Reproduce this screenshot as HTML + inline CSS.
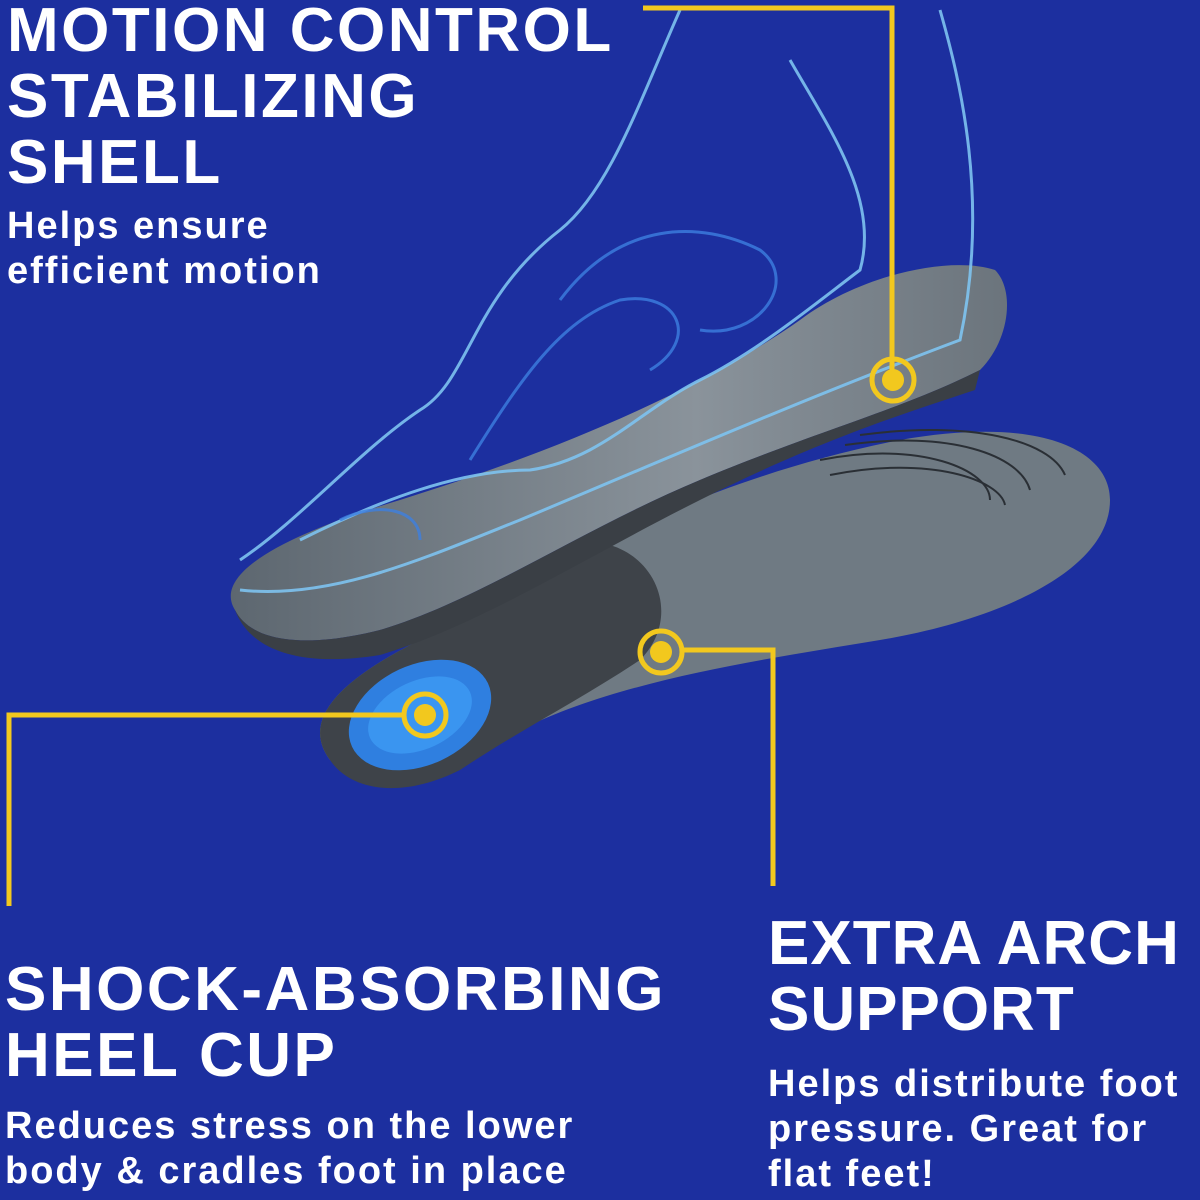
<!DOCTYPE html>
<html><head><meta charset="utf-8"><style>
html,body{margin:0;padding:0}
body{width:1200px;height:1200px;background:#1c2f9f;position:relative;overflow:hidden;font-family:"Liberation Sans",sans-serif;color:#fff}
.t{position:absolute;font-weight:bold;white-space:nowrap}
.h{font-size:62px;line-height:66px;letter-spacing:2.5px}
.s{font-size:38px;line-height:45px;letter-spacing:2px}
svg{position:absolute;left:0;top:0}
</style></head><body>
<svg width="1200" height="1200" viewBox="0 0 1200 1200">
<defs>
<linearGradient id="g1" x1="0" y1="0" x2="1" y2="0"><stop offset="0" stop-color="#5d6770"/><stop offset="0.6" stop-color="#8a939b"/><stop offset="1" stop-color="#6b747c"/></linearGradient>
</defs>
<path d="M330,760 C300,720 340,680 420,640 C560,560 700,480 900,440 C1040,415 1110,450 1110,500 C1110,570 1000,620 880,640 C760,660 620,680 520,730 C460,760 380,800 330,760 Z" fill="#6f7a83"/>
<path d="M330,760 C300,720 340,680 420,640 C500,600 560,570 610,545 C660,560 680,620 640,660 C580,700 520,730 460,770 C400,800 350,790 330,760Z" fill="#3e4349"/>
<ellipse cx="420" cy="715" rx="75" ry="50" transform="rotate(-25 420 715)" fill="#2f7fe0"/>
<ellipse cx="420" cy="715" rx="55" ry="34" transform="rotate(-25 420 715)" fill="#3a95f0"/>
<g stroke="#2a2f35" stroke-width="2" fill="none">
<path d="M820,460 C920,440 990,470 990,500"/><path d="M830,475 C930,455 1000,480 1005,505"/><path d="M845,445 C950,430 1020,455 1030,490"/><path d="M860,435 C970,420 1050,440 1065,475"/>
</g>
<path d="M235,610 C210,570 300,530 400,500 C560,450 700,390 800,320 C860,275 950,255 995,270 C1015,290 1010,340 980,370 C900,410 820,430 700,480 C580,530 480,600 380,630 C300,650 250,640 235,610 Z" fill="url(#g1)"/>
<path d="M235,610 C250,640 300,650 380,630 C480,600 580,530 700,480 C820,430 900,410 980,370 L975,390 C900,415 820,440 700,500 C580,560 480,625 380,655 C300,668 250,650 235,610Z" fill="#3a3f45"/>
<g stroke="#7ec3f0" stroke-width="3" fill="none" opacity="0.9">
<path d="M240,560 C300,520 360,450 420,410 C470,380 470,300 560,230 C610,190 640,100 680,10"/>
<path d="M240,590 C330,600 420,560 520,520 C640,470 800,400 960,340 C990,200 960,80 940,10"/>
<path d="M300,540 C380,500 460,470 530,470 C600,460 640,410 700,380 C760,350 820,300 860,270 C880,200 830,130 790,60"/>
</g>
<g stroke="#3d7fe0" stroke-width="3" fill="none" opacity="0.8">
<path d="M560,300 C620,220 700,220 760,250 C800,280 760,340 700,330"/>
<path d="M470,460 C520,380 560,320 620,300 C680,290 700,340 650,370"/>
<path d="M340,520 C380,500 420,510 420,540"/>
</g>
<g stroke="#f2c81e" stroke-width="5" fill="none">
<polyline points="643,8 892,8 892,370"/>
<polyline points="683,650 773,650 773,886"/>
<polyline points="405,715 9,715 9,906"/>
<circle cx="893" cy="380" r="21"/><circle cx="661" cy="652" r="21"/><circle cx="425" cy="715" r="21"/>
</g>
<g fill="#f2c81e"><circle cx="893" cy="380" r="11"/><circle cx="661" cy="652" r="11"/><circle cx="425" cy="715" r="11"/></g>
</svg>
<div class="t h" style="left:7px;top:-2px">MOTION CONTROL<br>STABILIZING<br>SHELL</div>
<div class="t s" style="left:7px;top:204px">Helps ensure<br>efficient motion</div>
<div class="t h" style="left:5px;top:957px">SHOCK-ABSORBING<br>HEEL CUP</div>
<div class="t s" style="left:5px;top:1104px">Reduces stress on the lower<br>body &amp; cradles foot in place</div>
<div class="t h" style="left:768px;top:911px;letter-spacing:1px">EXTRA ARCH<br>SUPPORT</div>
<div class="t s" style="left:768px;top:1062px">Helps distribute foot<br>pressure. Great for<br>flat feet!</div>
</body></html>
